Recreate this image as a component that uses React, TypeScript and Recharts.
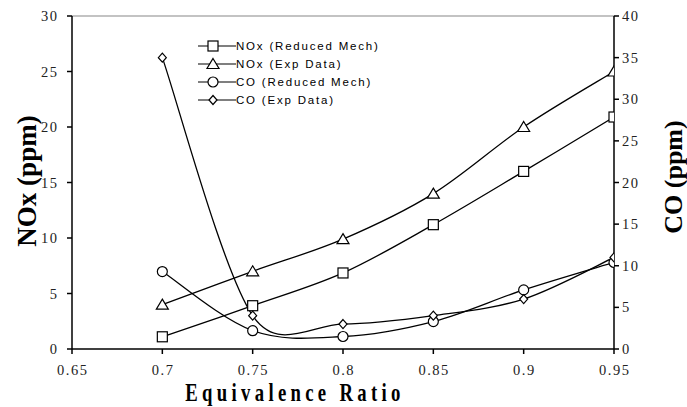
import React from 'react';
import { LineChart, Line, XAxis, YAxis, Legend, ReferenceLine } from 'recharts';

const phi = [0.7, 0.75, 0.8, 0.85, 0.9, 0.95];
const noxReduced = [1.1, 3.9, 6.85, 11.2, 16.0, 20.9];
const noxExp = [4, 7, 9.9, 14, 20, 25];
const coReduced = [9.3, 2.2, 1.5, 3.3, 7.1, 10.4];
const coExp = [35, 4, 3, 4, 6, 11];

const xTicks = [0.65, 0.7, 0.75, 0.8, 0.85, 0.9, 0.95];
const noxTicks = [0, 5, 10, 15, 20, 25, 30];
const coTicks = [0, 5, 10, 15, 20, 25, 30, 35, 40];

const legendLabels = ['NOx (Reduced Mech)', 'NOx (Exp Data)', 'CO (Reduced Mech)', 'CO (Exp Data)'];
const legendShapes = ['square', 'triangle', 'circle', 'diamond'];

const data = phi.map((p, i) => ({
  phi: p,
  noxReduced: noxReduced[i],
  noxExp: noxExp[i],
  coReduced: coReduced[i],
  coExp: coExp[i]
}));

// smoothed line roughly like a spreadsheet "smoothed line" (bezier, capped tangents)
function smoothCurve(context: any) {
  let xs: number[] = [];
  let ys: number[] = [];
  return {
    areaStart() {},
    areaEnd() {},
    lineStart() {
      xs = [];
      ys = [];
    },
    point(x: number, y: number) {
      xs.push(+x);
      ys.push(+y);
    },
    lineEnd() {
      const n = xs.length;
      if (!n) return;
      context.moveTo(xs[0], ys[0]);
      for (let i = 0; i < n - 1; i++) {
        const i0 = Math.max(0, i - 1);
        const i3 = Math.min(n - 1, i + 2);
        const seg = Math.hypot(xs[i + 1] - xs[i], ys[i + 1] - ys[i]);
        let tx = xs[i + 1] - xs[i0];
        let ty = ys[i + 1] - ys[i0];
        let d = Math.hypot(tx, ty);
        let f = d > 0 ? Math.min(1 / 6, (0.5 * seg) / d) : 0;
        const c1x = xs[i] + tx * f;
        const c1y = ys[i] + ty * f;
        tx = xs[i3] - xs[i];
        ty = ys[i3] - ys[i];
        d = Math.hypot(tx, ty);
        f = d > 0 ? Math.min(1 / 6, (0.5 * seg) / d) : 0;
        const c2x = xs[i + 1] - tx * f;
        const c2y = ys[i + 1] - ty * f;
        context.bezierCurveTo(c1x, c1y, c2x, c2y, xs[i + 1], ys[i + 1]);
      }
    }
  };
}

function Marker({ shape, cx, cy }: { shape: string; cx: number; cy: number }) {
  const common = { fill: '#fff', stroke: '#000', strokeWidth: 1.2 };
  if (shape === 'square') return <rect x={cx - 5} y={cy - 5} width={10} height={10} {...common} />;
  if (shape === 'triangle')
    return <polygon points={`${cx},${cy - 5.5} ${cx + 6},${cy + 4.5} ${cx - 6},${cy + 4.5}`} {...common} />;
  if (shape === 'circle') return <circle cx={cx} cy={cy} r={5} {...common} />;
  return <polygon points={`${cx},${cy - 4.5} ${cx + 4},${cy} ${cx},${cy + 4.5} ${cx - 4},${cy}`} {...common} />;
}

const dotFor = (shape: string) => (p: any) => (
  <g key={`${shape}-${p.index}`}>
    <Marker shape={shape} cx={p.cx} cy={p.cy} />
  </g>
);

function LegendBox() {
  return (
    <div style={{ fontFamily: '"Liberation Sans", Arial, sans-serif', fontSize: 11.5, letterSpacing: 1.8, color: '#000' }}>
      {legendLabels.map((label, i) => (
        <div key={label} style={{ display: 'flex', alignItems: 'center', height: 18 }}>
          <svg width={38} height={14} style={{ display: 'block' }}>
            <line x1={0} y1={7} x2={38} y2={7} stroke="#000" strokeWidth={1.2} />
            <Marker shape={legendShapes[i]} cx={15} cy={7} />
          </svg>
          <span style={{ whiteSpace: 'nowrap' }}>{label}</span>
        </div>
      ))}
    </div>
  );
}

const serif = '"Liberation Serif", "Times New Roman", serif';

const makeTick = (kind: 'x' | 'left' | 'right') => (p: any) => {
  const anchor = kind === 'x' ? 'middle' : kind === 'left' ? 'end' : 'start';
  const dy = kind === 'x' ? '0.71em' : '0.35em';
  const shift = kind === 'left' ? 1.5 : kind === 'x' ? 0.75 : 0;
  return (
    <text
      x={p.x + shift}
      y={p.y}
      dy={dy}
      textAnchor={anchor}
      fontFamily={serif}
      fontSize={14.5}
      letterSpacing={1.5}
      fill="#222"
    >
      {p.payload.value}
    </text>
  );
};

export default function App() {
  return (
    <div style={{ position: 'absolute', left: 0, top: 0, width: 687, height: 407, background: '#fff' }}>
      <LineChart width={687} height={407} data={data} margin={{ top: 16, right: 33, bottom: 28, left: 32 }}>
        <XAxis
          dataKey="phi"
          type="number"
          domain={[0.65, 0.95]}
          ticks={xTicks}
          allowDataOverflow
          height={30}
          stroke="#000"
          strokeWidth={1.5}
          tickSize={5}
          tickMargin={11}
          tick={makeTick('x')}
          label={{
            content: ({ viewBox }: any) => (
              <text
                transform={`translate(${viewBox.x + 223}, ${viewBox.y + 52}) scale(0.72, 1)`}
                textAnchor="middle"
                fontFamily={serif}
                fontWeight="bold"
                fontSize={26}
                letterSpacing={6}
                fill="#000"
              >
                Equivalence Ratio
              </text>
            )
          }}
        />
        <YAxis
          yAxisId="nox"
          domain={[0, 30]}
          ticks={noxTicks}
          width={40}
          stroke="#000"
          strokeWidth={1.5}
          tickSize={5}
          tickMargin={10}
          tick={makeTick('left')}
          label={{
            content: ({ viewBox }: any) => {
              const x = viewBox.x - 5;
              const y = viewBox.y + 165;
              return (
                <text
                  x={x}
                  y={y}
                  transform={`rotate(-90 ${x} ${y})`}
                  textAnchor="middle"
                  dominantBaseline="central"
                  fontFamily={serif}
                  fontWeight="bold"
                  fontSize={27}
                  fill="#000"
                >
                  NOx (ppm)
                </text>
              );
            }
          }}
        />
        <YAxis
          yAxisId="co"
          orientation="right"
          domain={[0, 40]}
          ticks={coTicks}
          width={40}
          stroke="#000"
          strokeWidth={1.5}
          tickSize={5}
          tickMargin={3}
          tick={makeTick('right')}
          label={{
            content: ({ viewBox }: any) => {
              const x = viewBox.x + 59;
              const y = viewBox.y + 161;
              return (
                <text
                  x={x}
                  y={y}
                  transform={`rotate(-90 ${x} ${y})`}
                  textAnchor="middle"
                  dominantBaseline="central"
                  fontFamily={serif}
                  fontWeight="bold"
                  fontSize={26}
                  fill="#000"
                >
                  CO (ppm)
                </text>
              );
            }
          }}
        />
        <ReferenceLine yAxisId="nox" y={30} stroke="#888" strokeWidth={1.2} />
        <Legend
          layout="vertical"
          align="center"
          verticalAlign="middle"
          content={() => <LegendBox />}
          wrapperStyle={{ left: 198, top: 37, width: 220 }}
        />

        <Line yAxisId="nox" dataKey="noxReduced" type={smoothCurve as any} stroke="#000" strokeWidth={1.3}
          dot={dotFor('square')} activeDot={false} isAnimationActive={false} />
        <Line yAxisId="nox" dataKey="noxExp" type={smoothCurve as any} stroke="#000" strokeWidth={1.3}
          dot={dotFor('triangle')} activeDot={false} isAnimationActive={false} />
        <Line yAxisId="co" dataKey="coReduced" type={smoothCurve as any} stroke="#000" strokeWidth={1.3}
          dot={dotFor('circle')} activeDot={false} isAnimationActive={false} />
        <Line yAxisId="co" dataKey="coExp" type={smoothCurve as any} stroke="#000" strokeWidth={1.3}
          dot={dotFor('diamond')} activeDot={false} isAnimationActive={false} />
      </LineChart>
    </div>
  );
}
